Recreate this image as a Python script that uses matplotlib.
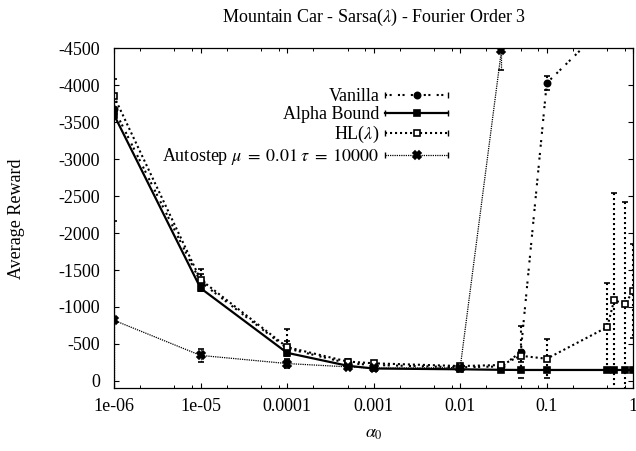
import numpy as np
import matplotlib.pyplot as plt
from matplotlib.lines import Line2D
from matplotlib.legend_handler import HandlerLine2D, HandlerTuple
from matplotlib.ticker import LogLocator, NullFormatter

plt.rcParams['font.family'] = ['Liberation Serif', 'DejaVu Serif']
plt.rcParams['mathtext.fontset'] = 'stix'
plt.rcParams['axes.unicode_minus'] = False

# valeurs (recompense moyenne, barres d'erreur)
alpha_vanilla = [1e-6, 1e-5, 1e-4, 5e-4, 1e-3, 1e-2, 3e-2, 5e-2, 1e-1, 5e-1]
r_vanilla = [-3680, -1340, -440, -240, -215, -185, -195, -390, -4030, -4830]
e_vanilla = [100, 100, 100, 20, 15, 15, 30, 350, 95, 300]

alpha_bound = [1e-6, 1e-5, 1e-4, 5e-4, 1e-3, 1e-2, 3e-2, 5e-2, 1e-1, 5e-1, 6e-1, 8e-1, 1.0]
r_bound = [-3600, -1255, -380, -205, -168, -157, -150, -148, -148, -148, -148, -148, -148]
e_bound = [60, 40, 20, 10, 10, 8, 8, 8, 8, 8, 8, 8, 8]

alpha_hl = [1e-6, 1e-5, 1e-4, 5e-4, 1e-3, 1e-2, 3e-2, 5e-2, 1e-1, 5e-1, 6e-1, 8e-1, 1.0]
r_hl = [-3850, -1370, -457, -262, -238, -201, -215, -340, -300, -728, -1090, -1045, -1215]
e_hl = [230, 150, 240, 30, 20, 15, 40, 80, 264, 600, 1450, 1375, 640]

alpha_auto = [1e-6, 1e-5, 1e-4, 5e-4, 1e-3, 1e-2, 3e-2, 5e-2]
r_auto = [-820, -345, -235, -190, -172, -180, -4480, -6500]
e_auto = [1350, 85, 55, 15, 10, 25, 270, 500]

labels = ['Vanilla', 'Alpha Bound', r'HL($\lambda$)',
          r'Autostep $\mu\;=\;0.01\;\tau\;=\;10000$']
xtick_vals = [1e-6, 1e-5, 1e-4, 1e-3, 1e-2, 1e-1, 1]
xtick_txt = ['1e-06', '1e-05', '0.0001', '0.001', '0.01', '0.1', '1']
ytick_vals = list(range(0, -5000, -500))

# styles : (ligne, epaisseur, marqueur, remplissage, taille)
styles = [
    ((0, (1, 1.2, 1, 3)), 1.5, 'o', 'black', 4.5),
    ('-', 1.6, 's', 'black', 5),
    ((0, (1, 1.4)), 1.5, 's', 'white', 5),
    ((0, (1, 0.8)), 0.9, 'X', 'black', 6),
]
series = [
    (alpha_vanilla, r_vanilla, e_vanilla),
    (alpha_bound, r_bound, e_bound),
    (alpha_hl, r_hl, e_hl),
    (alpha_auto, r_auto, e_auto),
]

fig = plt.figure(figsize=(6.36, 4.51), dpi=100)
ax = fig.add_axes([114 / 636, 1 - 388.3 / 451, (633.3 - 114) / 636, (388.3 - 48.3) / 451])

handles = []
hmap = {}
for (x, y, e), (ls, lw, mk, mfc, ms) in zip(series, styles):
    eb = ax.errorbar(x, y, yerr=e, color='black', ls=ls, lw=lw, marker=mk,
                     mfc=mfc, mec='black', mew=1.2, ms=ms, capsize=2,
                     elinewidth=lw, capthick=lw)
    eb[2][0].set_linestyle(ls)
    cap = Line2D([], [], color='black', ls=ls, lw=lw, marker='|', ms=5, mew=1)
    mark = Line2D([], [], color='black', ls='None', marker=mk, mfc=mfc,
                  mec='black', mew=1.2, ms=ms)
    hmap[cap] = HandlerLine2D(numpoints=2, marker_pad=0)
    hmap[mark] = HandlerLine2D(numpoints=1)
    handles.append((cap, mark))

hmap[tuple] = HandlerTuple(ndivide=1, pad=0)

ax.set_xscale('log')
ax.set_xlim(1e-6, 1)
ax.set_ylim(100, -4500)
ax.set_xticks(xtick_vals)
ax.set_xticklabels(xtick_txt)
ax.xaxis.set_minor_locator(LogLocator(base=10, subs=[2, 5, 8], numticks=20))
ax.xaxis.set_minor_formatter(NullFormatter())
ax.set_yticks(ytick_vals)
ax.set_yticklabels([str(v) for v in ytick_vals])

ax.tick_params(which='major', direction='in', top=True, right=True,
               length=3.6, width=0.8, labelsize=13)
ax.tick_params(which='minor', direction='in', top=True, right=True,
               length=2, width=0.7)
ax.tick_params(axis='y', pad=10)
ax.tick_params(axis='x', pad=7)
for sp in ax.spines.values():
    sp.set_linewidth(0.9)

ax.set_title(r'Mountain Car - Sarsa($\lambda$) - Fourier Order 3', fontsize=13, pad=19)
ax.set_ylabel('Average Reward', fontsize=13)
ax.set_xlabel(r'$\alpha_0$', fontsize=13)
ax.yaxis.set_label_coords(-0.172, 0.5)
ax.xaxis.set_label_coords(0.5, -0.107)

ax.legend(handles, labels, handler_map=hmap, loc='upper right',
          bbox_to_anchor=(0.644, 0.882), frameon=False, markerfirst=False,
          fontsize=13, handlelength=3.5, handletextpad=0.3, labelspacing=0.05,
          borderpad=0, borderaxespad=0)

plt.savefig('out.png', dpi=100)
